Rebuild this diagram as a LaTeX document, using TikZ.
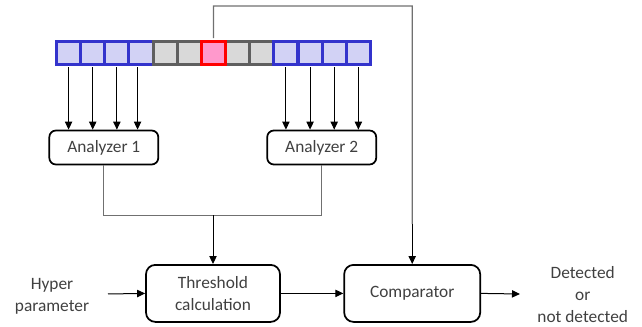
\documentclass[tikz,border=0pt]{standalone}
\usepackage{fontspec}
\setmainfont{Carlito}
\usetikzlibrary{arrows.meta,calc}
\definecolor{txt}{HTML}{404040}
\definecolor{bluebd}{HTML}{3333CC}
\definecolor{bluefill}{HTML}{D2D2F5}
\definecolor{graybd}{HTML}{5F5F5F}
\definecolor{grayfill}{HTML}{D9D9D9}
\definecolor{redbd}{HTML}{FF0000}
\definecolor{redfill}{HTML}{FF99CC}
\definecolor{wire}{HTML}{707070}
\tikzset{
  cellbox/.style={draw, line width=2.25pt, minimum width=18.1pt, minimum height=17.6pt, inner sep=0pt},
  cellb/.style={cellbox, draw=bluebd, fill=bluefill},
  cellg/.style={cellbox, draw=graybd, fill=grayfill},
  cellr/.style={cellbox, draw=redbd, fill=redfill},
  anabox/.style={draw=black, line width=1.3pt, rounded corners=5pt, minimum width=81.75pt, minimum height=25.5pt, inner sep=0pt, text=txt, align=center},
  procbox/.style={draw=black, line width=1.3pt, rounded corners=7pt, minimum height=42.75pt, inner sep=0pt, text=txt, align=center},
  arr/.style={draw=black, line width=0.75pt, -{Triangle[length=6pt,width=5.5pt]}},
  wireln/.style={draw=wire, line width=0.9pt},
  lbl/.style={text=txt, align=center, inner sep=0pt}
}
\begin{document}
\begin{tikzpicture}[x=0.75pt,y=-0.75pt,font=\fontsize{13}{16.5}\selectfont]
\useasboundingbox (0,0) rectangle (642,327);
% cells
\foreach \i in {1,...,4}
  \node[cellb] (c\i) at ({56.5+(\i-0.5)*24.15},52.75) {};
\foreach \i in {5,6,8,9}
  \node[cellg] (c\i) at ({56.5+(\i-0.5)*24.15},52.75) {};
\foreach \i in {10,...,13}
  \node[cellb] (c\i) at ({56.5+(\i-0.5)*24.15},52.75) {};
\node[cellr] (c7) at ({56.5+6.5*24.15},52.75) {};
% analyzers
\node[anabox] (a1) at (103.8,147.5) {Analyzer 1};
\node[anabox] (a2) at (321.7,147.5) {Analyzer 2};
% processing boxes
\node[procbox, minimum width=100.5pt] (thr) at (213,293.4) {Threshold\\calculation};
\node[procbox, minimum width=102pt] (cmp) at (412.2,293.4) {Comparator};
% labels
\node[lbl] (hyp) at (52,296) {Hyper\\parameter};
\node[lbl] (out) at (582.7,295) {Detected\\or\\not detected};
\coordinate (hin) at (108,294);
\coordinate (oend) at (520,294);
% cell to analyzer arrows
\foreach \i in {1,2,3}
  \draw[arr] ([yshift=-1.1pt]c\i.south) -- (c\i.south |- a1.north);
\draw[arr] ([xshift=-2.6pt,yshift=-1.1pt]c4.south) -- ([xshift=-2.6pt]c4.south |- a1.north);
\foreach \i in {10,...,13}
  \draw[arr] ([yshift=-1.1pt]c\i.south) -- (c\i.south |- a2.north);
% merge to threshold
\coordinate (mj) at (213,215.5);
\draw[wireln] (a1.south) |- (mj) -| (a2.south);
\draw[arr] (mj) -- (thr.north);
% red cell to comparator
\coordinate (tp) at (213.5,6);
\draw[wireln] ([yshift=1.1pt]c7.north) -- (tp) -- (tp -| cmp.north) -- ($(cmp.north)+(0,-40)$);
\draw[arr] ($(cmp.north)+(0,-40)$) -- (cmp.north);
% flow
\draw[arr] (hin) -- (thr.west);
\draw[arr] (thr.east) -- (cmp.west);
\draw[arr] (cmp.east) -- (oend);
\end{tikzpicture}
\end{document}
